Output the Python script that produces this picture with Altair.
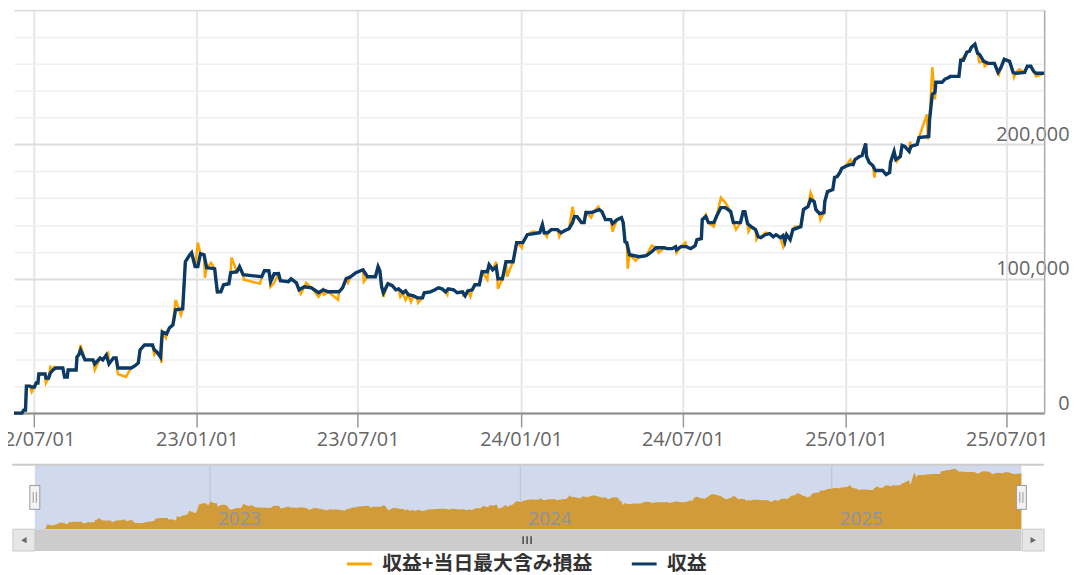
import altair as alt
import pandas as pd

SERIES_A = "収益+当日最大含み損益"
SERIES_B = "収益"

# 収益 (navy line)
navy_dates = [
    "2022-06-09", "2022-06-18", "2022-06-20", "2022-06-22", "2022-06-23", "2022-06-27", "2022-06-29",
    "2022-07-02", "2022-07-04", "2022-07-06", "2022-07-07", "2022-07-14", "2022-07-15", "2022-07-18",
    "2022-07-20", "2022-07-23", "2022-07-26", "2022-08-03", "2022-08-05", "2022-08-08", "2022-08-09",
    "2022-08-18", "2022-08-19", "2022-08-21", "2022-08-23", "2022-08-28", "2022-09-06", "2022-09-08",
    "2022-09-14", "2022-09-17", "2022-09-21", "2022-09-24", "2022-09-29", "2022-10-02", "2022-10-04",
    "2022-10-19", "2022-10-23", "2022-10-27", "2022-10-29", "2022-11-03", "2022-11-12", "2022-11-14",
    "2022-11-17", "2022-11-21", "2022-11-23", "2022-11-28", "2022-12-01", "2022-12-05", "2022-12-08",
    "2022-12-16", "2022-12-19", "2022-12-24", "2022-12-26", "2022-12-30", "2023-01-02", "2023-01-05",
    "2023-01-09", "2023-01-12", "2023-01-21", "2023-01-22", "2023-01-24", "2023-01-28", "2023-01-31",
    "2023-02-06", "2023-02-08", "2023-02-15", "2023-02-18", "2023-02-22", "2023-03-15", "2023-03-18",
    "2023-03-23", "2023-03-25", "2023-03-29", "2023-04-03", "2023-04-05", "2023-04-14", "2023-04-17",
    "2023-04-23", "2023-04-26", "2023-05-02", "2023-05-10", "2023-05-18", "2023-05-23", "2023-05-29",
    "2023-06-10", "2023-06-14", "2023-06-18", "2023-06-23", "2023-06-29", "2023-07-07", "2023-07-12",
    "2023-07-21", "2023-07-24", "2023-07-26", "2023-07-28", "2023-07-30", "2023-08-04", "2023-08-09",
    "2023-08-13", "2023-08-16", "2023-08-21", "2023-08-24", "2023-08-27", "2023-09-02", "2023-09-06",
    "2023-09-12", "2023-09-14", "2023-09-21", "2023-09-26", "2023-09-30", "2023-10-04", "2023-10-08",
    "2023-10-11", "2023-10-17", "2023-10-21", "2023-10-27", "2023-10-30", "2023-11-02", "2023-11-07",
    "2023-11-10", "2023-11-15", "2023-11-18", "2023-11-24", "2023-11-26", "2023-11-30", "2023-12-04",
    "2023-12-06", "2023-12-11", "2023-12-15", "2023-12-23", "2023-12-27", "2024-01-03", "2024-01-08",
    "2024-01-22", "2024-01-25", "2024-01-27", "2024-01-31", "2024-02-04", "2024-02-11", "2024-02-15",
    "2024-02-19", "2024-02-24", "2024-02-28", "2024-03-01", "2024-03-04", "2024-03-09", "2024-03-12",
    "2024-03-14", "2024-03-20", "2024-03-23", "2024-03-29", "2024-04-01", "2024-04-05", "2024-04-11",
    "2024-04-13", "2024-04-18", "2024-04-23", "2024-04-25", "2024-04-27", "2024-04-29", "2024-05-02",
    "2024-05-13", "2024-05-21", "2024-05-27", "2024-06-01", "2024-06-10", "2024-06-13", "2024-06-19",
    "2024-06-23", "2024-06-24", "2024-06-29", "2024-07-05", "2024-07-10", "2024-07-15", "2024-07-17",
    "2024-07-22", "2024-07-23", "2024-07-27", "2024-07-30", "2024-08-05", "2024-08-08", "2024-08-13",
    "2024-08-18", "2024-08-24", "2024-08-27", "2024-09-04", "2024-09-07", "2024-09-09", "2024-09-12",
    "2024-09-16", "2024-09-21", "2024-09-24", "2024-09-27", "2024-10-02", "2024-10-07", "2024-10-11",
    "2024-10-14", "2024-10-19", "2024-10-22", "2024-10-24", "2024-10-26", "2024-10-30", "2024-11-02",
    "2024-11-11", "2024-11-14", "2024-11-19", "2024-11-22", "2024-11-26", "2024-11-28", "2024-12-02",
    "2024-12-07", "2024-12-08", "2024-12-11", "2024-12-17", "2024-12-19", "2024-12-22", "2024-12-25",
    "2024-12-27", "2024-12-31", "2025-01-06", "2025-01-09", "2025-01-11", "2025-01-16", "2025-01-19",
    "2025-01-23", "2025-01-24", "2025-01-27", "2025-01-31", "2025-02-03", "2025-02-11", "2025-02-15",
    "2025-02-19", "2025-02-20", "2025-02-24", "2025-02-26", "2025-03-03", "2025-03-05", "2025-03-08",
    "2025-03-13", "2025-03-15", "2025-03-22", "2025-03-24", "2025-04-04", "2025-04-05", "2025-04-08",
    "2025-04-11", "2025-04-12", "2025-04-19", "2025-04-22", "2025-04-27", "2025-04-28", "2025-05-08",
    "2025-05-10", "2025-05-13", "2025-05-17", "2025-05-20", "2025-05-22", "2025-05-26", "2025-05-29",
    "2025-05-31", "2025-06-05", "2025-06-10", "2025-06-17", "2025-06-21", "2025-06-24", "2025-06-28",
    "2025-07-04", "2025-07-08", "2025-07-11", "2025-07-21", "2025-07-24", "2025-07-28", "2025-07-31",
    "2025-08-03", "2025-08-12",
]
navy_values = [
    0, 0, 2200, 2200, 20100, 20100, 19400,
    19400, 22400, 22400, 29100, 29100, 26100, 26100,
    29900, 32100, 33600, 33600, 26900, 26900, 32100,
    32100, 41800, 43300, 47000, 39600, 39600, 36600,
    41000, 39600, 43300, 36600, 41000, 41000, 33600,
    33600, 35100, 37300, 47000, 50700, 50700, 47000,
    45500, 41800, 60400, 59000, 63400, 65700, 76900,
    77600, 112700, 117900, 119400, 109000, 109000, 118700,
    117900, 108200, 107500, 101500, 90300, 90300, 95500,
    96300, 104500, 105200, 109000, 103000, 101500, 106000,
    106000, 97800, 103700, 103700, 98500, 97800, 100000,
    97000, 91800, 94000, 93300, 89600, 91800, 90300,
    90300, 93300, 100000, 101500, 104500, 106700, 101500,
    101500, 109000, 106000, 94000, 89600, 96300, 94800,
    91800, 92500, 89600, 91000, 88100, 87300, 85800,
    85800, 89600, 90300, 91800, 93300, 92500, 90300,
    92500, 91800, 89600, 90300, 87300, 91000, 91800,
    95500, 95500, 105200, 105200, 110400, 106700, 109000,
    100000, 100000, 112700, 112700, 126900, 126900, 132800,
    134300, 140300, 134300, 134300, 136600, 136600, 134300,
    135800, 137300, 141800, 146300, 146300, 141800, 141800,
    149300, 149300, 150000, 151500, 150000, 144000, 144000,
    141000, 144000, 145500, 141800, 127600, 126900, 117900,
    116400, 117200, 120100, 123100, 123100, 122400, 122400,
    123900, 121600, 123900, 123900, 122400, 124600, 129100,
    129900, 144000, 146300, 141800, 141800, 146300, 153000,
    153000, 150000, 141800, 141800, 150000, 150000, 141000,
    138800, 136600, 131300, 130600, 132800, 133600, 131300,
    132800, 130600, 132100, 127600, 132800, 129100, 136600,
    138800, 151500, 153700, 159000, 157500, 151500, 148500,
    149300, 157500, 164900, 166400, 175400, 176100, 179100,
    182100, 183600, 185100, 185100, 188800, 191000, 191800,
    200700, 191000, 186600, 184300, 180600, 180600, 177600,
    179100, 186600, 194800, 188800, 191000, 199300, 198500,
    194800, 198500, 200000, 205200, 206000, 218700, 237300,
    238800, 246300, 246300, 248500, 250000, 250700, 250700,
    262700, 262700, 268700, 269400, 272400, 274600, 267900,
    267200, 261900, 260400, 260400, 253700, 256700, 263400,
    261900, 253700, 253000, 253700, 258200, 258200, 254500,
    253000, 253000,
]

# 収益+当日最大含み損益: days where it differs from 収益
spike_dates = [
    "2022-06-29", "2022-07-15", "2022-07-20", "2022-07-24", "2022-08-23", "2022-09-08", "2022-09-23",
    "2022-10-04", "2022-10-13", "2022-11-14", "2022-11-22", "2022-11-27", "2022-12-08", "2022-12-14",
    "2023-01-02", "2023-01-10", "2023-01-17", "2023-01-24", "2023-02-09", "2023-02-23", "2023-03-13",
    "2023-03-25", "2023-03-29", "2023-04-28", "2023-05-04", "2023-05-18", "2023-05-24", "2023-06-09",
    "2023-06-20", "2023-07-08", "2023-07-30", "2023-08-18", "2023-08-24", "2023-08-30", "2023-09-07",
    "2023-10-10", "2023-10-28", "2023-11-05", "2023-11-24", "2023-12-04", "2023-12-06", "2023-12-16",
    "2024-01-02", "2024-01-14", "2024-01-30", "2024-02-13", "2024-02-28", "2024-03-20", "2024-03-28",
    "2024-04-13", "2024-04-30", "2024-05-09", "2024-05-27", "2024-06-04", "2024-06-24", "2024-07-04",
    "2024-07-27", "2024-08-05", "2024-08-13", "2024-08-18", "2024-08-30", "2024-09-13", "2024-09-22",
    "2024-10-02", "2024-10-22", "2024-11-04", "2024-11-22", "2024-12-03", "2025-01-06", "2025-02-02",
    "2025-02-27", "2025-03-14", "2025-04-02", "2025-04-03", "2025-04-08", "2025-04-11", "2025-05-13",
    "2025-05-31", "2025-06-06", "2025-06-22", "2025-07-09", "2025-07-15", "2025-08-03",
]
spike_values = [
    15700, 22400, 34300, 34300, 50700, 32100, 44800,
    29100, 26900, 43300, 37300, 56000, 84300, 73100,
    126900, 100700, 111900, 89600, 115700, 99300, 96300,
    94000, 97000, 88800, 97000, 86600, 88100, 84300,
    97000, 97800, 86600, 86600, 84300, 82800, 82100,
    88100, 87300, 86600, 99300, 112700, 92500, 101500,
    123100, 135100, 131300, 131300, 153700, 145500, 153700,
    135100, 107500, 113400, 124600, 119400, 119400, 126900,
    147800, 138800, 160400, 156700, 136600, 135100, 129100,
    134300, 123900, 138800, 164200, 144000, 188800, 175400,
    187300, 202200, 222400, 203700, 257500, 233600, 264900,
    261200, 258200, 252200, 250000, 256000, 250700,
]

x_start, x_end = "2022-06-09", "2025-08-12"
x_tick_dates = ["2022-07-01", "2023-01-01", "2023-07-01", "2024-01-01",
                "2024-07-01", "2025-01-01", "2025-07-01"]
y_ticks = [0, 20000, 40000, 60000, 80000, 100000, 120000, 140000, 160000,
           180000, 200000, 220000, 240000, 260000, 280000, 300000]
year_starts = ["2023-01-01", "2024-01-01", "2025-01-01"]
year_labels = ["2023", "2024", "2025"]

FONT = "Open Sans"
JP = "Noto Sans CJK JP"


def dt(s):
    y, m, d = (int(p) for p in s.split("-"))
    return alt.DateTime(year=y, month=m, date=d, utc=True)


navy = pd.DataFrame({"date": navy_dates, "value": navy_values})
spikes = pd.DataFrame({"date": spike_dates, "value": spike_values})
orange = (pd.concat([spikes, navy]).drop_duplicates("date", keep="first")
          .sort_values("date").reset_index(drop=True))
navy["series"] = SERIES_B
orange["series"] = SERIES_A

W, H = 1038, 406
NAV_H = 65

x_main = alt.X(
    "date:T",
    scale=alt.Scale(type="utc", domain=[dt(x_start), dt(x_end)]),
    axis=alt.Axis(
        title=None, values=[dt(s) for s in x_tick_dates],
        labelExpr="utcFormat(datum.value, '%y/%m/%d')",
        labelFont=FONT, labelFontSize=20, labelColor="#666666", labelPadding=3,
        labelFlush=False, labelOverlap=False,
        tickSize=14, tickColor="#999999", tickWidth=1.5,
        domainColor="#8c8c8c", domainWidth=2,
        grid=True, gridColor="#e6e6e6", gridWidth=2,
    ),
)
major = "datum.value % 100000 === 0"
y_main = alt.Y(
    "value:Q",
    scale=alt.Scale(domain=[0, 300000], nice=False),
    axis=alt.Axis(
        title=None, orient="right", values=y_ticks,
        labelExpr="(datum.value % 100000 === 0 && datum.value < 300000) ? format(datum.value, ',') : ''",
        labelFont=FONT, labelFontSize=20, labelColor="#666666",
        labelAlign="right", labelBaseline="bottom", labelPadding=25,
        ticks=False, tickSize=0,
        domain=True, domainColor="#aaaaaa", domainWidth=1.5,
        grid=True,
        gridColor={"condition": {"test": major, "value": "#dddddd"}, "value": "#efefef"},
        gridWidth={"condition": {"test": major, "value": 2}, "value": 1.5},
    ),
)
color = alt.Color(
    "series:N",
    scale=alt.Scale(domain=[SERIES_A, SERIES_B], range=["#FFA500", "#0B3A66"]),
    legend=alt.Legend(
        title=None, orient="none", legendX=334, legendY=544, direction="horizontal",
        labelFont=JP, labelFontSize=20, labelFontWeight="bold", labelColor="#333333",
        symbolType="stroke", symbolSize=625, symbolStrokeWidth=3, labelOffset=9,
        columnPadding=33, padding=0, labelLimit=0,
    ),
)

line_a = alt.Chart(orange).mark_line(strokeWidth=2.5).encode(x=x_main, y=y_main, color=color)
line_b = alt.Chart(navy).mark_line(strokeWidth=3.4).encode(x=x_main, y=y_main, color=color)
main = alt.layer(line_a, line_b).properties(width=W, height=H)

# ---- navigator ----
x_nav = alt.X("date:T", scale=alt.Scale(type="utc", domain=[dt(x_start), dt(x_end)],
                                        range=[21, 1015]), axis=None)
span = pd.DataFrame({"date": [x_start], "end": [x_end]})
ends = pd.DataFrame({"date": [x_start, x_end]})
years = pd.DataFrame({"date": year_starts, "label": year_labels})
one = pd.DataFrame({"k": [0]})

nav_bg = alt.Chart(span).mark_rect(color="#D1DAEC").encode(
    x=x_nav, x2="end:T", y=alt.value(0), y2=alt.value(NAV_H))
nav_grid = alt.Chart(years).mark_rule(color="#BFC8DA", strokeWidth=1.5).encode(
    x=alt.X("date:T"), y=alt.value(0), y2=alt.value(NAV_H))
nav_area = alt.Chart(orange).mark_area(color="#D19B3A").encode(
    x=alt.X("date:T"),
    y=alt.Y("value:Q", scale=alt.Scale(domain=[0, 293000], nice=False), axis=None))
nav_text = alt.Chart(years).mark_text(
    align="left", baseline="alphabetic", dx=8, font=FONT, fontSize=19, color="#8A93A5"
).encode(x=alt.X("date:T"), y=alt.value(61), text="label:N")
nav_top = alt.Chart(one).mark_rule(color="#cccccc", strokeWidth=2).encode(
    x=alt.value(-2), x2=alt.value(W), y=alt.value(0))
# scrollbar
sb_track = alt.Chart(one).mark_rect(color="#f2f2f2").encode(
    x=alt.value(-2), x2=alt.value(W), y=alt.value(NAV_H), y2=alt.value(NAV_H + 22))
sb_thumb = alt.Chart(span).mark_rect(color="#cccccc").encode(
    x=alt.X("date:T"), x2="end:T", y=alt.value(NAV_H), y2=alt.value(NAV_H + 22))
sb_btn_l = alt.Chart(one).mark_rect(fill="#e6e6e6", stroke="#cccccc", strokeWidth=1).encode(
    x=alt.value(-1), x2=alt.value(21), y=alt.value(NAV_H), y2=alt.value(NAV_H + 22))
sb_btn_r = alt.Chart(one).mark_rect(fill="#e6e6e6", stroke="#cccccc", strokeWidth=1).encode(
    x=alt.value(1016), x2=alt.value(W), y=alt.value(NAV_H), y2=alt.value(NAV_H + 22))
sb_arrow_l = alt.Chart(one).mark_point(shape="triangle-left", filled=True, color="#333333",
                                       size=40).encode(x=alt.value(10), y=alt.value(NAV_H + 11))
sb_arrow_r = alt.Chart(one).mark_point(shape="triangle-right", filled=True, color="#333333",
                                       size=40).encode(x=alt.value(1027), y=alt.value(NAV_H + 11))
sb_grip = alt.Chart(one).mark_point(
    shape="M-1,-1L-1,1M0,-1L0,1M1,-1L1,1", filled=False, color="#333333", strokeWidth=1.3,
    size=64, opacity=1).encode(x=alt.value(517), y=alt.value(NAV_H + 11))
# handles
handle = alt.Chart(ends).mark_point(
    shape="M-0.42,-1L0.42,-1L0.42,1L-0.42,1Z", filled=True, fill="#f2f2f2", stroke="#999999",
    strokeWidth=1, size=576, opacity=1).encode(x=alt.X("date:T"), y=alt.value(33))
handle_grip = alt.Chart(ends).mark_point(
    shape="M-0.13,-0.45L-0.13,0.45M0.13,-0.45L0.13,0.45", filled=False, stroke="#999999",
    strokeWidth=1, size=576, opacity=1).encode(x=alt.X("date:T"), y=alt.value(33))

nav = alt.layer(
    nav_bg, nav_grid, nav_area, nav_text, nav_top,
    sb_track, sb_thumb, sb_btn_l, sb_btn_r, sb_arrow_l, sb_arrow_r, sb_grip,
    handle, handle_grip,
).encode(x=x_nav).properties(width=W, height=NAV_H)

chart = alt.vconcat(main, nav, spacing=14).properties(
    padding={"left": -16, "top": 0, "right": 0, "bottom": 0},
    background="white",
).configure_view(stroke=None)

chart.save("out.html", embed_options={"renderer": "svg", "actions": False})
